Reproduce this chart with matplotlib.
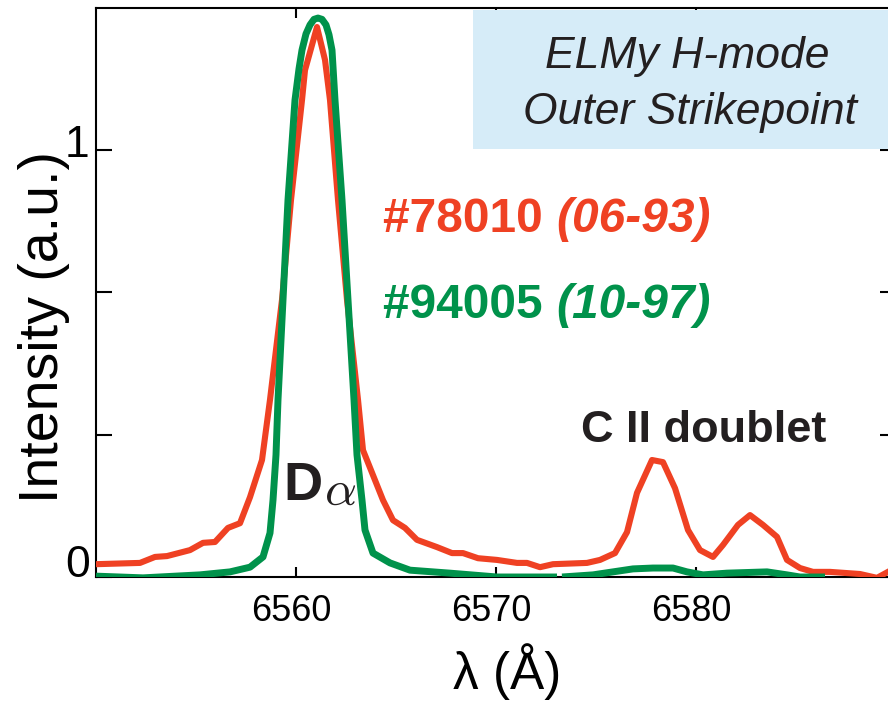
import matplotlib
matplotlib.use('Agg')
import matplotlib.pyplot as plt
import matplotlib.transforms as mtransforms
from matplotlib.patches import Rectangle
import numpy as np

plt.rcParams['font.family'] = ['Liberation Sans', 'DejaVu Sans']
plt.rcParams['mathtext.fontset'] = 'cm'

# spectra, wavelength in Angstrom, intensity normalised
wl_78010 = [6550.0, 6552.2, 6552.95, 6553.55, 6554.7, 6555.35, 6555.95, 6556.6, 6557.2, 6557.7,
            6558.3, 6558.7, 6559.3, 6559.75, 6560.3, 6560.45, 6561.05, 6561.45, 6561.7, 6562.1,
            6562.55, 6563.1, 6563.35, 6564.35, 6564.85, 6565.45, 6566.05, 6567.05, 6567.8, 6568.35,
            6569.1, 6570.05, 6571.05, 6571.55, 6572.2, 6572.85, 6574.55, 6575.2, 6575.95, 6576.55,
            6577.05, 6577.8, 6578.35, 6578.95, 6579.6, 6580.2, 6580.85, 6581.35, 6582.1, 6582.7,
            6583.35, 6584.05, 6584.55, 6585.2, 6585.85, 6586.7, 6588.2, 6589.05, 6589.6]
int_78010 = [0.030, 0.033, 0.047, 0.049, 0.063, 0.080, 0.082, 0.115, 0.126, 0.187,
             0.274, 0.415, 0.649, 0.883, 1.117, 1.187, 1.288, 1.211, 1.117, 0.883,
             0.649, 0.415, 0.297, 0.180, 0.133, 0.115, 0.087, 0.070, 0.056, 0.056,
             0.044, 0.040, 0.033, 0.033, 0.023, 0.030, 0.033, 0.040, 0.056, 0.105,
             0.197, 0.274, 0.269, 0.208, 0.110, 0.063, 0.047, 0.075, 0.122, 0.145,
             0.122, 0.094, 0.040, 0.021, 0.012, 0.012, 0.007, -0.002, 0.012]

# nan marks the gap in the 94005 trace
wl_94005 = [6550.0, 6552.35, 6555.2, 6556.7, 6557.7, 6558.35, 6558.7, 6558.85, 6559.0, 6559.1,
            6559.35, 6559.6, 6559.95, 6560.15, 6560.3, 6560.5, 6560.7, 6560.9, 6561.1, 6561.3,
            6561.5, 6561.65, 6561.8, 6561.95, 6562.3,
            6562.6, 6562.9, 6563.05, 6563.3, 6563.45, 6563.85, 6564.7, 6565.7, 6567.7, 6570.05,
            6571.7, 6573.05, 6573.2, 6573.3, 6574.85, 6575.85, 6576.85, 6577.85, 6578.85, 6579.55,
            6580.35, 6581.55, 6583.55, 6584.55, 6585.2, 6586.45]
int_94005 = [0.002, -0.002, 0.005, 0.012, 0.023, 0.047, 0.103, 0.180, 0.286, 0.415,
             0.649, 0.883, 1.117, 1.190, 1.234, 1.272, 1.293, 1.306, 1.309, 1.306,
             1.293, 1.270, 1.234, 1.117, 0.883,
             0.649, 0.415, 0.286, 0.180, 0.110, 0.056, 0.033, 0.016, 0.009, 0.0,
             0.0, 0.0, np.nan, 0.0, 0.005, 0.012, 0.019, 0.021, 0.021, 0.012,
             0.005, 0.009, 0.012, 0.005, 0.0, 0.0]

xticks = [6560, 6570, 6580]
yticks = [0, 1/3, 2/3, 1]

shots = ['#78010', '#94005']
dates = ['(06-93)', '(10-97)']

red = '#ef4123'
green = '#00924b'
ink = '#231f20'

fig = plt.figure(figsize=(8.88, 7.02), dpi=100)
ax = fig.add_axes([96/888, 125/702, 800/888, 569/702])
ax.set_xlim(6550, 6590)
ax.set_ylim(0, 569/427)

ax.plot(wl_78010, int_78010, color=red, lw=4.4, solid_joinstyle='round', zorder=4)
ax.plot(wl_94005, int_94005, color=green, lw=5.0, solid_joinstyle='round',
        solid_capstyle='butt', zorder=5)

# info box top right
ax.add_patch(Rectangle((6568.85, 1.003), 30, 0.325, facecolor='#d6ecf8',
                       edgecolor='none', zorder=3))
ax.text(6579.55, 1.192, 'ELMy H-mode', style='italic', fontsize=32,
        color=ink, ha='center', va='baseline', zorder=6)
ax.text(6579.7, 1.061, 'Outer Strikepoint', style='italic', fontsize=32,
        color=ink, ha='center', va='baseline', zorder=6)

# shot labels: number upright, date italic right after it
fig.canvas.draw()
renderer = fig.canvas.get_renderer()
for shot, date, col, yb in zip(shots, dates, [red, green], [0.808, 0.607]):
    t = ax.text(6564.35, yb, shot + ' ', fontsize=34.5, fontweight='bold', color=col,
                ha='left', va='baseline')
    x_end = t.get_window_extent(renderer).x1
    x_date = ax.transData.inverted().transform((x_end, 0))[0]
    ax.text(x_date, yb, date, fontsize=34.5, fontweight='bold', style='italic',
            color=col, ha='left', va='baseline')

ax.text(6580.4, 0.315, 'C II doublet', fontsize=32.5, fontweight='bold', color=ink,
        ha='center', va='baseline')
ax.text(6559.35, 0.18, 'D', fontsize=39, fontweight='bold', color=ink, ha='left', va='baseline')
ax.text(6561.4, 0.17, r'$\alpha$', fontsize=36, color=ink, ha='left', va='baseline')

# axes styling
for s in ax.spines.values():
    s.set_linewidth(1.5)
ax.set_xticks(xticks)
ax.set_xticklabels([str(t) for t in xticks], fontsize=26)
ax.set_yticks(yticks)
ax.set_yticklabels([])
ax.tick_params(axis='x', direction='in', length=7.5, width=1.5, top=True, pad=12)
ax.tick_params(axis='y', direction='in', length=11.5, width=1.5, right=True)
shift = mtransforms.ScaledTranslation(-5/100, 0, fig.dpi_scale_trans)
for lab in ax.get_xticklabels():
    lab.set_transform(lab.get_transform() + shift)

ytrans = mtransforms.blended_transform_factory(ax.transAxes, ax.transData)
ax.text(-0.008, 0.0, '0', fontsize=32, color='black', ha='right', va='baseline', transform=ytrans)
ax.text(-0.008, 1.0, '1', fontsize=32, color='black', ha='right', va='baseline',
        transform=ytrans + mtransforms.ScaledTranslation(0, -7/100, fig.dpi_scale_trans))

fig.text(44/888, 1 - 327/702, 'Intensity (a.u.)', fontsize=40, rotation=90,
         ha='center', va='center')
fig.text(507/888, 1 - 672/702, 'λ (Å)', fontsize=37, ha='center', va='center')

fig.savefig('out.png', dpi=100)
